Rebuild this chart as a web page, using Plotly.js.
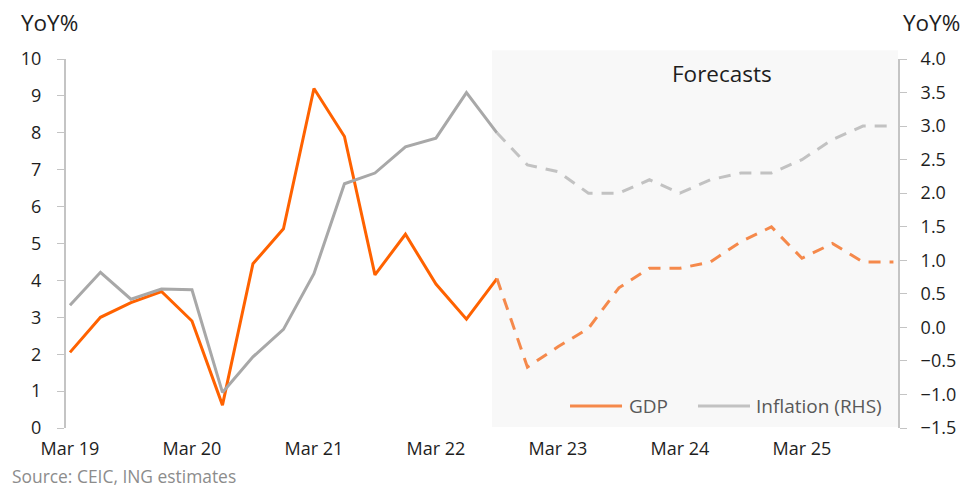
<!DOCTYPE html>
<html>
<head>
<meta charset="utf-8">
<script src="https://cdn.plot.ly/plotly-3.0.1.min.js"></script>
<style>html,body{margin:0;padding:0;background:#fff;}#chart{width:978px;height:488px;}</style>
</head>
<body>
<div id="chart"></div>
<script>
const quarters = ["Mar 19","Jun 19","Sep 19","Dec 19","Mar 20","Jun 20","Sep 20","Dec 20",
  "Mar 21","Jun 21","Sep 21","Dec 21","Mar 22","Jun 22","Sep 22","Dec 22",
  "Mar 23","Jun 23","Sep 23","Dec 23","Mar 24","Jun 24","Sep 24","Dec 24",
  "Mar 25","Jun 25","Sep 25","Dec 25"];
const tickLabels = ["Mar 19","Mar 20","Mar 21","Mar 22","Mar 23","Mar 24","Mar 25"];
// GDP YoY% (left axis)
const gdpActual = [2.05,3.0,3.4,3.7,2.9,0.62,4.45,5.4,9.2,7.9,4.15,5.25,3.9,2.95,4.05,
  null,null,null,null,null,null,null,null,null,null,null,null,null];
const gdpForecast = [null,null,null,null,null,null,null,null,null,null,null,null,null,null,4.05,
  1.65,2.2,2.7,3.8,4.33,4.33,4.5,5.05,5.45,4.6,5.0,4.5,4.5];
// Inflation YoY% (right axis)
const inflActual = [0.33,0.82,0.42,0.57,0.56,-0.97,-0.44,-0.03,0.8,2.14,2.3,2.69,2.82,3.5,2.9,
  null,null,null,null,null,null,null,null,null,null,null,null,null];
const inflForecast = [null,null,null,null,null,null,null,null,null,null,null,null,null,null,2.9,
  2.42,2.32,2.0,2.0,2.2,2.0,2.2,2.3,2.3,2.5,2.8,3.0,3.0];

const FONT = '"Open Sans", "Noto Sans", sans-serif';
const traces = [
  {x: quarters, y: gdpActual, type:'scatter', mode:'lines', name:'GDP',
   line:{color:'#FF6200', width:3}, showlegend:false, hoverinfo:'skip'},
  {x: quarters, y: gdpForecast, type:'scatter', mode:'lines', name:'GDP forecast',
   line:{color:'#F5894B', width:3, dash:'12px,9px'}, showlegend:false, hoverinfo:'skip'},
  {x: quarters, y: inflActual, type:'scatter', mode:'lines', name:'Inflation (RHS)', yaxis:'y2',
   line:{color:'#A8A8A8', width:3}, showlegend:false, hoverinfo:'skip'},
  {x: quarters, y: inflForecast, type:'scatter', mode:'lines', name:'Inflation forecast', yaxis:'y2',
   line:{color:'#C2C2C2', width:3, dash:'12px,9px'}, showlegend:false, hoverinfo:'skip'}
];

const txt = {family: FONT, size: 18, color:'#1e1e1e'};
const layout = {
  width: 978, height: 488,
  margin: {l:66, r:80, t:59, b:60},
  paper_bgcolor:'#ffffff', plot_bgcolor:'rgba(0,0,0,0)',
  font: {family: FONT, size: 18, color:'#1e1e1e'},
  xaxis: {
    type:'category', categoryorder:'array', categoryarray: quarters,
    range:[-0.13, 27.15], tickmode:'array', tickvals: tickLabels, ticktext: tickLabels,
    showgrid:false, zeroline:false, showline:false, ticks:'', tickfont: txt,
    ticklabelstandoff: 8, fixedrange:true
  },
  yaxis: {
    range:[0,10], dtick:1, tick0:0, showgrid:false, zeroline:false,
    showline:true, linecolor:'#C4C4C4', linewidth:2,
    ticks:'outside', ticklen:7, tickcolor:'#C4C4C4', tickwidth:1,
    tickfont: txt, ticklabelstandoff: 12
  },
  yaxis2: {
    overlaying:'y', side:'right', range:[-1.5,4.0], dtick:0.5, tick0:0,
    tickformat:'.1f', showgrid:false, zeroline:false,
    showline:true, linecolor:'#C4C4C4', linewidth:2,
    ticks:'outside', ticklen:7, tickcolor:'#C4C4C4', tickwidth:1,
    tickfont: txt, ticklabelstandoff: 10
  },
  shapes: [
    {type:'rect', xref:'x', yref:'paper', x0:13.84, x1:27.15, y0:0.003, y1:1.024,
     fillcolor:'#F8F8F8', line:{width:0}, layer:'below'},
    {type:'line', xref:'paper', yref:'paper', x0:0.6058, x1:0.6683, y0:0.0596, y1:0.0596,
     line:{color:'#F5894B', width:3}},
    {type:'line', xref:'paper', yref:'paper', x0:0.7596, x1:0.8221, y0:0.0596, y1:0.0596,
     line:{color:'#C2C2C2', width:3}}
  ],
  annotations: [
    {text:'YoY%', xref:'paper', yref:'paper', x:-0.0565, y:1.100, xanchor:'left', yanchor:'middle',
     showarrow:false, font:{family:FONT, size:22.5, color:'#1e1e1e'}},
    {text:'YoY%', xref:'paper', yref:'paper', x:1.004, y:1.100, xanchor:'left', yanchor:'middle',
     showarrow:false, font:{family:FONT, size:22.5, color:'#1e1e1e'}},
    {text:'Forecasts', xref:'paper', yref:'paper', x:0.726, y:0.962, xanchor:'left', yanchor:'middle',
     showarrow:false, font:{family:FONT, size:22.5, color:'#1e1e1e'}},
    {text:'GDP', xref:'paper', yref:'paper', x:0.6745, y:0.0596, xanchor:'left', yanchor:'middle',
     showarrow:false, font:{family:FONT, size:19, color:'#595959'}},
    {text:'Inflation (RHS)', xref:'paper', yref:'paper', x:0.8271, y:0.0596, xanchor:'left', yanchor:'middle',
     showarrow:false, font:{family:FONT, size:19, color:'#595959'}},
    {text:'Source: CEIC, ING estimates', xref:'paper', yref:'paper', x:-0.0665, y:-0.1301,
     xanchor:'left', yanchor:'middle', showarrow:false, borderpad:0,
     font:{family:FONT, size:17.4, color:'#8C8C8C'}}
  ]
};
Plotly.newPlot('chart', traces, layout, {staticPlot:true, displayModeBar:false});
</script>
</body>
</html>
